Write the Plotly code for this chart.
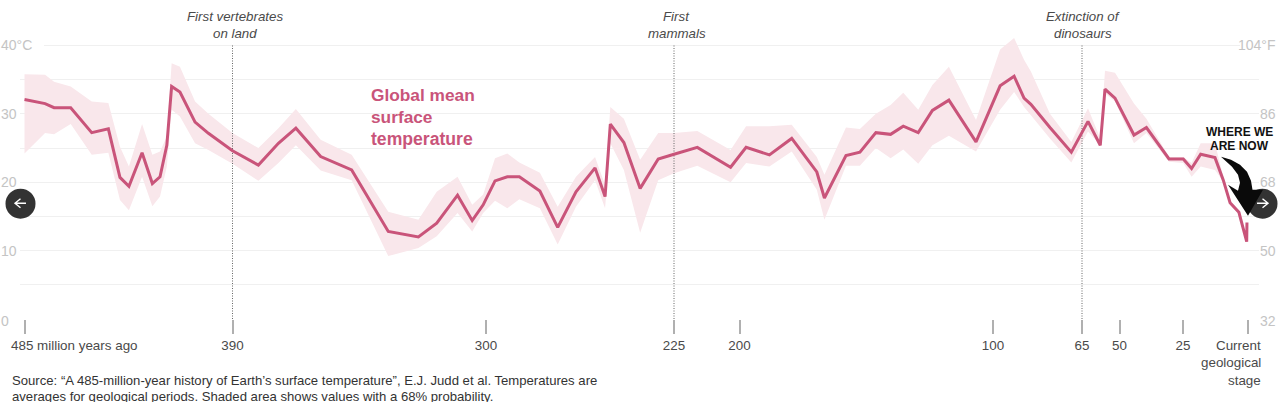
import numpy as np
import plotly.graph_objects as go

# ---- data ----
age = [485, 475.6, 471.5, 463.9, 454.3, 446.7, 441.4, 437.3, 431.3, 426.6, 423.1, 420, 417.8, 414, 407.1, 401,
       390, 380.8, 373.7, 367.5, 358.7, 347.7, 334.7, 324, 317.5, 310.1, 304.9, 301,
       296.4, 291.5, 286.7, 278.5, 271.4, 264.1, 256.5, 252.5, 250.4, 245, 238.5, 231.3,
       225, 216.1, 203.4, 197.4, 188.2, 179.4, 169.5, 166.5, 158, 152.5, 146.2, 140.4, 135.4, 129.5, 123.9, 117.4, 106.7,
       97.2, 91.7, 87.8, 85.1, 77.6, 69.2, 62.6, 57.7, 55.8, 51.8, 44.3, 39.4, 30.5, 24.9, 21.7, 18.2, 12.7, 9.5, 6.9, 3.5, 0.5, 0.4]
temp = [32.1, 31.5, 30.9, 30.9, 27.25, 27.8, 20.7, 19.4, 24.3, 19.8, 20.8, 25.4, 34.0, 33.2, 28.8, 27.15,
        24.6, 22.5, 25.7, 27.9, 23.75, 21.8, 12.8, 12.0, 14.0, 18.1, 14.4, 16.7,
        20.2, 20.8, 20.8, 18.7, 13.4, 18.6, 22.1, 17.9, 28.5, 25.8, 19.1, 23.4,
        24.1, 25.1, 22.2, 25.1, 24.0, 26.4, 21.5, 17.7, 23.9, 24.4, 27.25, 27.0, 28.2, 27.25, 30.5, 32.0, 25.9,
        34.1, 35.5, 32.3, 31.4, 28.0, 24.4, 28.9, 25.4, 33.6, 32.3, 26.9, 28.0, 23.4, 23.4, 22.0, 24.1, 23.6, 20.3, 17.0, 15.6, 11.3, 14.1]
upper = [35.8, 35.7, 34.7, 34.0, 31.8, 31.6, 25.2, 22.3, 28.5, 24.0, 24.5, 26.7, 37.4, 36.9, 31.8, 30.0,
         27.2, 25.0, 27.9, 30.7, 26.2, 24.0, 15.7, 14.5, 18.6, 20.8, 16.7, 18.2,
         23.5, 24.2, 22.9, 21.4, 16.4, 20.8, 23.7, 19.6, 31.0, 29.3, 23.3, 27.2,
         27.2, 27.5, 24.7, 28.2, 28.2, 28.4, 23.7, 21.1, 28.0, 27.8, 30.0, 31.3, 33.1, 30.6, 34.2, 36.9, 29.1,
         39.4, 41.1, 37.9, 36.2, 30.0, 25.9, 30.8, 26.4, 36.3, 36.0, 31.5, 29.3, 23.7, 23.7, 22.8, 25.7, 25.7, 20.8, 17.3, 15.9, 11.5, 14.3]
lower = [24.2, 27.2, 27.0, 28.5, 24.0, 24.3, 17.4, 15.9, 20.8, 16.5, 17.9, 22.3, 30.6, 29.6, 25.7, 24.7,
         22.7, 20.2, 22.8, 25.4, 21.7, 20.3, 9.2, 10.4, 12.1, 15.5, 12.8, 15.5,
         17.3, 16.2, 17.5, 16.2, 10.9, 16.4, 20.3, 16.2, 25.7, 21.8, 12.6, 20.3,
         21.3, 22.4, 20.0, 22.8, 22.3, 24.5, 18.9, 14.5, 22.4, 22.4, 25.0, 23.5, 24.8, 22.7, 25.4, 26.8, 24.5,
         30.6, 33.2, 31.0, 29.8, 26.4, 22.9, 27.4, 25.4, 33.0, 31.8, 25.7, 27.2, 23.0, 22.8, 20.8, 22.3, 21.8, 20.1, 16.7, 15.3, 11.1, 13.9]

tick_ages = [485, 390, 300, 225, 200, 100, 65, 50, 25, 0]
tick_text = ["", "390", "300", "225", "200", "100", "65", "50", "25", ""]
celsius_ticks = [0, 10, 20, 30, 40]
celsius_text = ["0", "10", "20", "30", "40°C"]
fahrenheit_text = ["32", "50", "68", "86", "104°F"]
grid_values = [0, 5, 10, 15, 20, 25, 30, 35, 40]
events = [390, 225, 65]
event_text = [["First vertebrates", "on land"], ["First", "mammals"], ["Extinction of", "dinosaurs"]]

# ---- the time axis of the chart is not linear: each tick interval has its own scale ----
W, H = 1280, 402
axis_scale = [24.5, 232.5, 486, 674, 739.5, 993, 1082, 1119.5, 1183, 1248]
def xs(a):
    return np.interp(-np.asarray(a, dtype=float), -np.array(tick_ages, dtype=float), axis_scale)

L, R, T, B = 20, 21, 30, 82.5
PW, PH = W - L - R, H - T - B
def px(x):
    return (x - L) / PW
def py(y):
    return (H - B - y) / PH

PINK = "#c9547a"
BAND = "#f9e7eb"
TXT = "#4a4a4a"
AXT = "#c4c4c4"
FONT = "Liberation Sans, Arial, sans-serif"

fig = go.Figure()
x = xs(age)
fig.add_trace(go.Scatter(x=x, y=upper, mode="lines", line=dict(width=0), showlegend=False, hoverinfo="skip"))
fig.add_trace(go.Scatter(x=x, y=lower, mode="lines", line=dict(width=0), fill="tonexty", fillcolor=BAND,
                         showlegend=False, hoverinfo="skip"))
for e in events:
    fig.add_trace(go.Scatter(x=xs([e, e]), y=[0, 40], mode="lines", showlegend=False, hoverinfo="skip",
                             line=dict(color="#666666", width=1, dash="1px,1.5px")))
fig.add_trace(go.Scatter(x=x, y=temp, mode="lines", name="Global mean surface temperature", showlegend=False,
                         line=dict(color=PINK, width=3, shape="linear")))

ann = []
def label(text, x0, y0, size=14, color=TXT, anchor="center", bold=False, italic=False):
    if bold:
        text = "<b>" + text + "</b>"
    if italic:
        text = "<i>" + text + "</i>"
    ann.append(dict(text=text, x=px(x0), y=py(y0), xref="paper", yref="paper", xanchor=anchor, yanchor="middle",
                    showarrow=False, font=dict(family=FONT, size=size, color=color), borderpad=0))

zero_y, per_deg = H - B, PH / 42.26
for c, ct, ft in zip(celsius_ticks, celsius_text, fahrenheit_text):
    yy = zero_y - c * per_deg + (2.5 if c == 0 else 0)
    label(ct, 0, yy, 14, AXT, "left")
    label(ft, 1277, yy, 14, AXT, "right")

for e, (a, b), cx in zip(events, event_text, [234.5, 676.5, 1083]):
    label(a, cx, 16.5, 13.3, TXT, italic=True)
    label(b, cx, 33.5, 13.3, TXT, italic=True)

label("485 million years ago", 10, 346, 13.4, TXT, "left")
label("Current", 1262, 346, 13.4, TXT, "right")
label("geological", 1262, 363.5, 13.4, TXT, "right")
label("stage", 1262, 381, 13.4, TXT, "right")

label("Global mean", 369.5, 95, 17.3, PINK, "left", bold=True)
label("surface", 369.5, 117, 17.3, PINK, "left", bold=True)
label("temperature", 369.5, 139, 17.6, PINK, "left", bold=True)

label("Source: “A 485-million-year history of Earth’s surface temperature”, E.J. Judd et al. Temperatures are",
      11, 381.5, 13.13, "#333333", "left")
label("averages for geological periods. Shaded area shows values with a 68% probability.",
      11, 397, 13.13, "#333333", "left")

label("WHERE WE", 1239, 132, 12, "#111111", bold=True)
label("ARE NOW", 1239, 146, 12, "#111111", bold=True)

def circle(cx, cy, r=15):
    return dict(type="circle", xref="paper", yref="paper", layer="above",
                x0=px(cx - r), x1=px(cx + r), y0=py(cy + r), y1=py(cy - r),
                fillcolor="#333333", line=dict(width=0))

def poly(pts, close=True):
    return "M " + " L ".join(f"{px(a):.5f},{py(b):.5f}" for a, b in pts) + (" Z" if close else "")

def chevron(cx, cy, d):
    # white arrow icon of the carousel buttons; d = -1 left, +1 right
    return dict(type="path", xref="paper", yref="paper", layer="above",
                path=poly([(cx - 5.5 * d, cy), (cx + 5.5 * d, cy)], False) + " " +
                     poly([(cx, cy - 4.5), (cx + 5.5 * d, cy), (cx, cy + 4.5)], False),
                line=dict(color="white", width=1.4))

# Curved arrow of the callout, as a decorative outline
arrow = [(1221, 157), (1231, 160), (1240, 165), (1247, 172), (1251, 181), (1252.5, 190), (1263, 190),
         (1248, 216), (1228, 185), (1238, 191), (1240, 183), (1238, 175), (1232, 167)]
white_a = dict(type="rect", xref="paper", yref="paper", layer="above", x0=px(L), x1=px(44),
               y0=py(47), y1=py(44), fillcolor="white", line=dict(width=0))
white_b = dict(type="rect", xref="paper", yref="paper", layer="above", x0=px(1240), x1=px(W - R),
               y0=py(47), y1=py(44), fillcolor="white", line=dict(width=0))
shapes = [white_a, white_b, circle(20.5, 204), circle(1262.5, 204),
          chevron(20.5, 203.5, -1), chevron(1262.5, 203.5, 1),
          dict(type="path", xref="paper", yref="paper", layer="above", path=poly(arrow),
               fillcolor="#0a0a0a", line=dict(width=0))]

fig.update_layout(
    width=W, height=H, autosize=False,
    margin=dict(l=L, r=R, t=T, b=B, pad=0),
    paper_bgcolor="white", plot_bgcolor="white",
    showlegend=False, annotations=ann, shapes=shapes,
    xaxis=dict(range=[L, W - R], tickmode="array", tickvals=list(xs(tick_ages)), ticktext=tick_text,
               ticks="outside", ticklen=14, tickwidth=1.5, tickcolor="#b0b0b0",
               showgrid=False, zeroline=False, showline=False,
               tickfont=dict(family=FONT, size=13.4, color=TXT)),
    yaxis=dict(range=[0, 42.26], tickmode="array", tickvals=grid_values, showticklabels=False,
               showgrid=True, gridcolor="#f0f0f0", gridwidth=1, zeroline=False, showline=False, ticks=""),
)
fig.write_html("out.html", config={"displayModeBar": False}, post_script="document.body.style.margin='0';")
